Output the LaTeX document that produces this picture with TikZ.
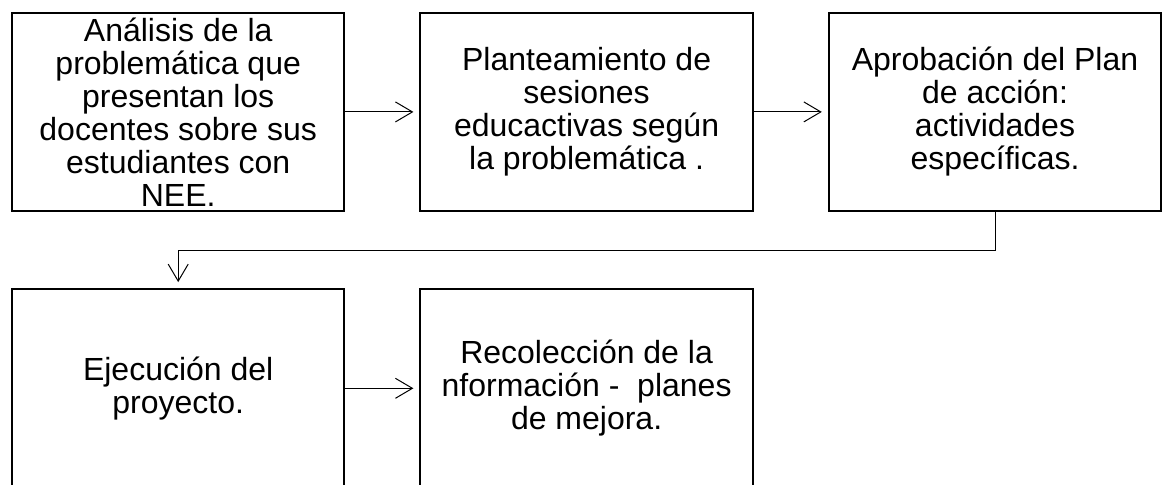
\documentclass[tikz,border=0pt]{standalone}
\usepackage{fontspec}
\setmainfont{Liberation Sans}
\usetikzlibrary{positioning, arrows.meta}

\begin{document}
\begin{tikzpicture}[node distance=39pt and 38pt,
    paso/.style={draw, line width=1pt, outer sep=0pt, inner sep=0pt,
        minimum width=166.2pt, minimum height=99.2pt},
    texto/.style={align=center, inner sep=0pt,
        font=\fontsize{16}{16.5}\selectfont},
    flecha/.style={-{Straight Barb[length=8.5pt,width=10pt]},
        line width=0.5pt, shorten >=3.5pt},
]
\useasboundingbox (0,0) rectangle (585pt,-242pt);
\clip (0,0) rectangle (585pt,-242pt);

\node[paso, anchor=north west] (AP) at (6pt,-6.35pt) {};
\node[paso] (PS) [right=of AP] {};
\node[paso] (PA) [right=of PS] {};
\node[paso] (EP) [below=of AP] {};
\node[paso] (RI) [right=of EP] {};

% textos
\node[texto] (APt) at (AP) {Análisis de la\\problemática que\\presentan los\\docentes sobre sus\\estudiantes con\\NEE.};
\node[texto] (PSt) at (PS) {Planteamiento de\\sesiones\\educactivas según\\la problemática .};
\node[texto] (PAt) at (PA) {Aprobación del Plan\\de acción:\\actividades\\específicas.};
\node[texto] (EPt) at (EP) {Ejecución del\\proyecto.};
\node[texto] (RIt) at (RI) {Recolección de la\\nformación -\ \ planes\\de mejora.};

\draw[flecha] (AP) -- (PS);
\draw[flecha] (PS) -- (PA);
\draw[flecha] (PA.south) -- ++(0,-19.85pt) -| (EP.north);
\draw[flecha] (EP) -- (RI);
\end{tikzpicture}
\end{document}
